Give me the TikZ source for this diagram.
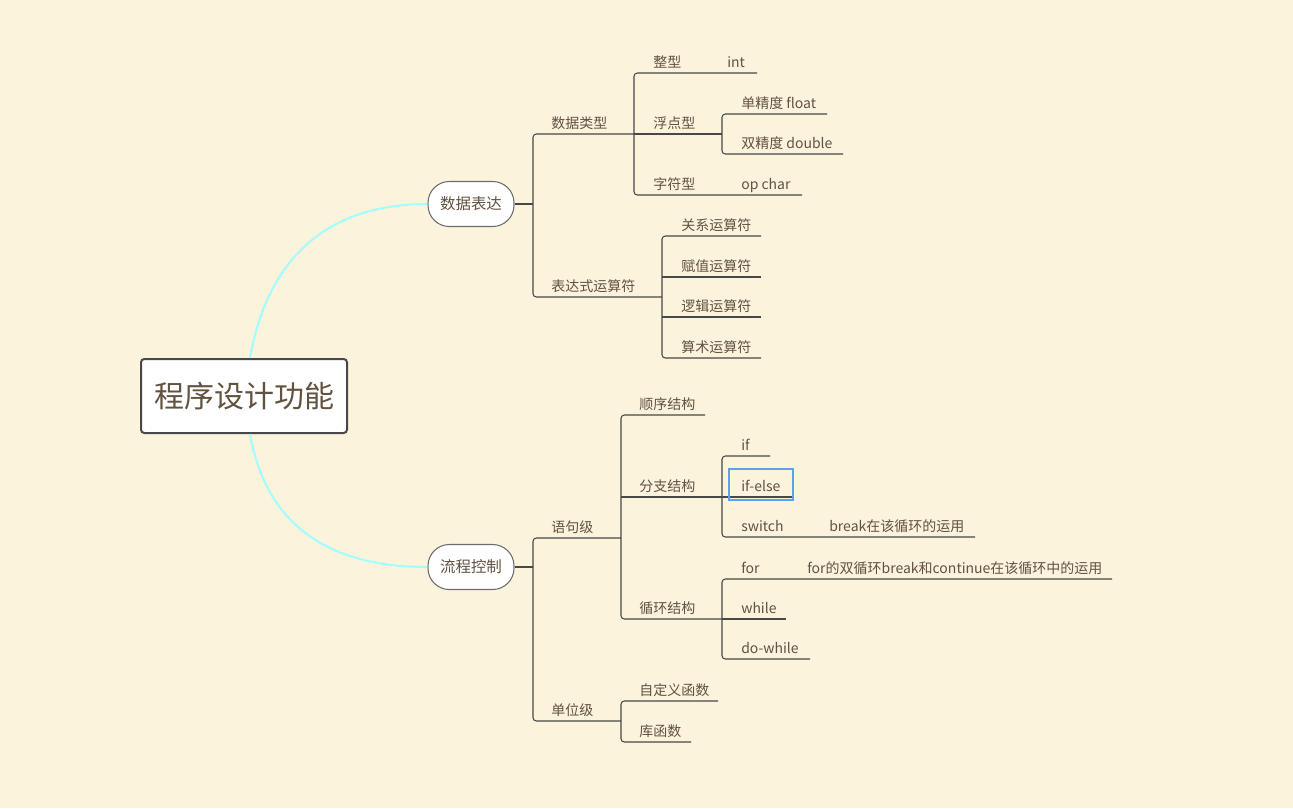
\documentclass[tikz,border=0pt]{standalone}
\usepackage{fontspec}
\setmainfont{Noto Sans CJK SC}
\usepackage{xcolor}
\usetikzlibrary{positioning}

\definecolor{bgc}{RGB}{251,243,220}
\definecolor{txtc}{RGB}{98,82,64}
\definecolor{linec}{RGB}{72,72,72}
\definecolor{curvec}{RGB}{160,255,255}
\definecolor{selc}{RGB}{90,162,238}

\begin{document}
\begin{tikzpicture}[x=0.75pt, y=-0.75pt,
   root/.style={draw=linec, line width=1.5pt, fill=white, rounded corners=2.5pt,
      minimum width=154.5pt, minimum height=55.5pt, font=\fontsize{22.5}{26}\selectfont, text=txtc},
   sub/.style={draw=linec!80, line width=0.8pt, fill=white, rounded corners=16pt, inner sep=0,
      minimum width=64.5pt, minimum height=33.75pt, font=\fontsize{11.6}{14}\selectfont, text=txtc},
   lbl/.style={anchor=base west, inner sep=0, font=\fontsize{10.5}{12}\selectfont, text=txtc},
   link/.style={draw=linec, line width=0.8pt, rounded corners=2.5pt},
   curv/.style={draw=curvec, line width=1.5pt},
   sel/.style={draw=selc, line width=1.5pt}]
   % 背景
   \fill[bgc] (0,0) rectangle (1293,808);

   % 中心主题与两个分支
   \node[root] (root) at (244,396) {程序设计功能};
   \node[sub] (sjbd) at (471,204) {数据表达};
   \node[sub] (lckz) at (471,567) {流程控制};
   \draw[curv] ([xshift=4.5pt]root.north) to[out=80, in=180, looseness=1.1] (sjbd.west);
   \draw[curv] ([xshift=4.5pt]root.south) to[out=-80, in=180, looseness=1.1] (lckz.west);

   % 数据表达
   \node[lbl] (sjlx) at (551,128) {数据类型};
   \node[lbl] (bdsf) at (551,291) {表达式运算符};
   \node[lbl] (zx) at (653,67) {整型};
   \node[lbl] (int) at (727,67) {int};
   \node[lbl] (fdx) at (653,128) {浮点型};
   \node[lbl] (djd) at (741,108) {单精度 float};
   \node[lbl] (sjd) at (741,148) {双精度 double};
   \node[lbl] (zfx) at (653,189) {字符型};
   \node[lbl] (char) at (741,189) {op char};
   \node[lbl] (gx) at (681,230) {关系运算符};
   \node[lbl] (fz) at (681,271) {赋值运算符};
   \node[lbl] (lj) at (681,311) {逻辑运算符};
   \node[lbl] (ss) at (681,352) {算术运算符};

   \coordinate (a0) at (533,204);
   \coordinate (sjlx-j) at (634,134);
   \coordinate (fdx-j) at (722,134);
   \coordinate (bdsf-j) at (662,297);
   \coordinate (int-e) at (757,73);
   \coordinate (char-e) at (802,195);
   \coordinate (djd-e) at (827,114);
   \coordinate (sjd-e) at (843,154);
   \coordinate (gx-e) at (761,236);
   \coordinate (fz-e) at (761,277);
   \coordinate (lj-e) at (761,317);
   \coordinate (ss-e) at (761,358);

   \draw[link] (sjbd.east) -- (a0);
   \draw[link] (sjlx-j) -| (a0) |- (bdsf-j);
   \draw[link] (int-e) -| (sjlx-j) |- (char-e);
   \draw[link] (sjlx-j) -- (fdx-j);
   \draw[link] (djd-e) -| (fdx-j) |- (sjd-e);
   \draw[link] (gx-e) -| (bdsf-j) |- (ss-e);
   \draw[link] (bdsf-j |- fz-e) -- (fz-e);
   \draw[link] (bdsf-j |- lj-e) -- (lj-e);

   % 流程控制
   \node[lbl] (yjj) at (551,532) {语句级};
   \node[lbl] (dwj) at (551,715) {单位级};
   \node[lbl] (sxjg) at (639,409) {顺序结构};
   \node[lbl] (fzjg) at (639,491) {分支结构};
   \node[lbl] (xhjg) at (639,613) {循环结构};
   \node[lbl] (if) at (741,450) {if};
   \node[lbl] (ifelse) at (741,491) {if-else};
   \node[lbl] (switch) at (741,531) {switch};
   \node[lbl] (brk) at (829,531) {break在该循环的运用};
   \node[lbl] (for) at (741,573) {for};
   \node[lbl] (forsx) at (807,573) {for的双循环break和continue在该循环中的运用};
   \node[lbl] (while) at (741,613) {while};
   \node[lbl] (dowhile) at (741,653) {do-while};
   \node[lbl] (zdy) at (639,695) {自定义函数};
   \node[lbl] (khs) at (639,736) {库函数};

   \coordinate (b0) at (533,567);
   \coordinate (yjj-j) at (621,538);
   \coordinate (dwj-j) at (621,721);
   \coordinate (fzjg-j) at (722,497);
   \coordinate (xhjg-j) at (722,619);
   \coordinate (sxjg-e) at (705,415);
   \coordinate (if-e) at (770,456);
   \coordinate (ifelse-e) at (792,497);
   \coordinate (brk-e) at (975,537);
   \coordinate (forsx-e) at (1112,579);
   \coordinate (while-e) at (786,619);
   \coordinate (dowhile-e) at (810,659);
   \coordinate (zdy-e) at (718,701);
   \coordinate (khs-e) at (691,742);

   \draw[link] (lckz.east) -- (b0);
   \draw[link] (yjj-j) -| (b0) |- (dwj-j);
   \draw[link] (sxjg-e) -| (yjj-j) |- (xhjg-j);
   \draw[link] (yjj-j |- fzjg-j) -- (fzjg-j);
   \draw[link] (if-e) -| (fzjg-j) |- (brk-e);
   \draw[link] (fzjg-j) -- (ifelse-e);
   \draw[link] (forsx-e) -| (xhjg-j) |- (dowhile-e);
   \draw[link] (xhjg-j) -- (while-e);
   \draw[link] (zdy-e) -| (dwj-j) |- (khs-e);

   % 选中框
   \draw[sel] (729,469) rectangle (793,500);
\end{tikzpicture}
\end{document}
